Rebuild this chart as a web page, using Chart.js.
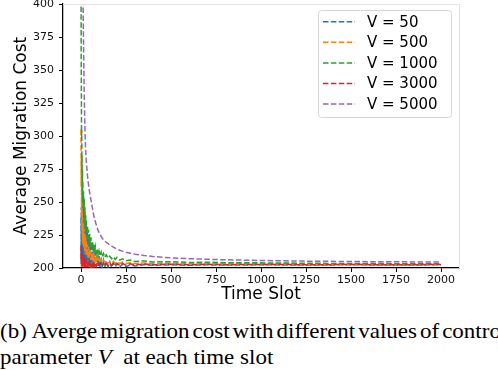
<!DOCTYPE html>
<html>
<head>
<meta charset="utf-8">
<script src="https://cdn.jsdelivr.net/npm/chart.js@4"></script>
<style>
  html, body { margin: 0; padding: 0; background: #fff; }
  body { width: 498px; height: 370px; overflow: hidden; position: relative; }
  #wrap { position: absolute; left: 0; top: 0; width: 498px; height: 305px; }
  #captionBox { position: absolute; left: 0; top: 318px; width: 498px; height: 52px; overflow: hidden; }
  #caption {
    font-family: "Liberation Serif", "Times New Roman", serif;
    font-size: 21px; line-height: 26px; color: #000;
    white-space: nowrap;
    transform: scaleX(1.095); transform-origin: 0 0;
  }
  #caption .first { word-spacing: -2.5px; }
</style>
</head>
<body>
<div id="wrap"><canvas id="costChart"></canvas></div>
<div id="captionBox"><div id="caption"><span class="first">(b)&nbsp; Averge migration cost with different values of control</span><br>parameter&nbsp;<i>V</i>&nbsp; at each time slot</div></div>

<script>
// ── data ───────────────────────────────────────────────────────────────────
const slots = [0, 1, 2, 3, 4, 5, 6, 7, 8, 9, 10, 12, 14, 16, 18, 20, 22, 24, 26, 28, 30,
    33, 36, 39, 42, 45, 48, 52, 56, 60, 64, 68, 72, 76, 80, 85, 90, 95, 100,
    106, 112, 118, 125, 132, 140, 150, 160, 170, 180, 190, 200, 215, 230, 250, 275, 300,
    350, 400, 500, 600, 700, 800, 1000, 1250, 1500, 1750, 2000];

const costV50 = [238, 205, 246, 212, 250, 208, 244, 206, 252, 210, 248, 207, 253, 211, 245, 205, 240, 208, 236, 204, 232,
    206, 228, 203, 225, 205, 222, 202, 219, 204, 216, 201, 214, 203, 212, 201, 210, 202, 209,
    200.5, 208, 201, 206, 200.5, 205, 201, 204.5, 200.5, 204, 201, 203.5, 200.5, 203, 201, 202.5, 201.5,
    202.5, 202, 202.4, 202.1, 202.4, 202.2, 202.4, 202.3, 202.4, 202.3, 202.4];

const costV500 = [305, 262, 284, 240, 262, 228, 250, 222, 242, 219, 238, 217, 234, 215, 230, 213, 226, 212, 224, 210, 221,
    209, 218, 208, 216, 207, 214, 206, 213, 206, 211, 205, 210, 205, 209, 204.5, 208, 204.5, 207,
    204, 206.5, 204, 206, 204, 205.5, 203.5, 205, 203.5, 205, 203.5, 204.5, 203.5, 204.5, 203.5, 204, 203.5,
    203.8, 203.4, 203.6, 203.3, 203.5, 203.2, 203.3, 203.1, 203, 202.9, 202.9];

const costV1000 = [470, 360, 338, 300, 305, 272, 285, 258, 274, 250, 266, 245, 258, 238, 252, 233, 246, 229, 240, 226, 236,
    223, 232, 220, 229, 218, 226, 216, 223, 214, 220, 213, 218, 212, 216, 211, 214, 210, 213,
    209, 212, 208.5, 211, 208, 210, 207.5, 209, 207, 208.5, 206.5, 208, 206, 207, 205.5, 206, 205,
    205.3, 204.6, 204.8, 204.2, 204.4, 204, 203.9, 203.6, 203.4, 203.3, 203.2];

const costV3000 = [217, 203, 214, 201, 212, 203, 211, 201, 210, 202, 209, 201, 208, 202, 208, 200.5, 207, 201, 206, 200.5, 206,
    201, 205, 200.5, 205, 201, 204.5, 200.5, 204.5, 201, 204, 201, 204, 201.5, 204, 201.5, 203.5, 201.5, 203.5,
    201.5, 203.5, 202, 203.5, 202, 203.5, 202, 203.5, 202, 203.5, 202, 203.5, 202, 203.5, 202.2, 203.2, 202.3,
    203, 202.4, 202.9, 202.5, 202.8, 202.5, 202.7, 202.5, 202.6, 202.5, 202.6];

const costV5000 = [900, 800, 720, 660, 610, 570, 530, 500, 470, 445, 420, 395, 372, 350, 332, 318, 305, 296, 289, 284, 280,
    275, 270, 266, 263, 260, 257, 254, 251, 248, 245, 242, 239, 237, 235, 232.5, 230.5, 228.5, 227,
    225.5, 224, 222.5, 221.5, 220.5, 219.5, 218.5, 217.5, 216.5, 215.8, 215, 214.3, 213.5, 212.8, 212, 211.2, 210.5,
    209.5, 208.7, 207.7, 207.1, 206.6, 206.2, 205.7, 205.2, 204.9, 204.7, 204.5];

const seriesLabels = ['V = 50', 'V = 500', 'V = 1000', 'V = 3000', 'V = 5000'];
const seriesColors = ['#1f77b4', '#ff7f0e', '#2ca02c', '#d62728', '#9467bd'];
const xTicks = [0, 250, 500, 750, 1000, 1250, 1500, 1750, 2000];
const yTicks = [200, 225, 250, 275, 300, 325, 350, 375, 400];

const allSeries = [costV50, costV500, costV1000, costV3000, costV5000];

// ── plot frame + in-axes legend ───────────────────────────────────────────
const frameAndLegend = {
    id: 'frameAndLegend',
    afterDraw(chart) {
        const ctx = chart.ctx;
        const a = chart.chartArea;
        ctx.save();
        // light top / right spines
        ctx.strokeStyle = '#e4e4e4';
        ctx.lineWidth = 1;
        ctx.beginPath();
        ctx.moveTo(a.left, a.top + 0.5);
        ctx.lineTo(a.right + 0.5, a.top + 0.5);
        ctx.lineTo(a.right + 0.5, a.bottom);
        ctx.stroke();

        // legend box
        const x0 = a.right - 141, y0 = a.top + 6, w = 133, h = 107;
        ctx.fillStyle = 'rgba(255,255,255,0.85)';
        ctx.strokeStyle = '#d6d6d6';
        ctx.beginPath();
        ctx.roundRect(x0 + 0.5, y0 + 0.5, w, h, 3);
        ctx.fill();
        ctx.stroke();

        ctx.font = '15px "DejaVu Sans"';
        ctx.textBaseline = 'middle';
        ctx.textAlign = 'left';
        chart.data.datasets.forEach((ds, i) => {
            const y = y0 + 11.7 + i * 20.6;
            ctx.strokeStyle = ds.borderColor;
            ctx.lineWidth = 1.5;
            ctx.setLineDash([5.5, 2.4]);
            ctx.beginPath();
            ctx.moveTo(x0 + 5, y);
            ctx.lineTo(x0 + 37, y);
            ctx.stroke();
            ctx.setLineDash([]);
            ctx.fillStyle = '#000';
            ctx.fillText(ds.label, x0 + 49, y + 1);
        });
        ctx.restore();
    }
};

new Chart(document.getElementById('costChart'), {
    type: 'line',
    data: {
        datasets: allSeries.map((vals, i) => ({
            label: seriesLabels[i],
            data: slots.map((t, j) => ({ x: t, y: vals[j] })),
            borderColor: seriesColors[i],
            borderWidth: 1.5,
            borderDash: [5.5, 2.4],
            pointRadius: 0,
            tension: 0,
            fill: false,
            order: allSeries.length - i,   // later series on top, like matplotlib
        }))
    },
    options: {
        responsive: true,
        maintainAspectRatio: false,
        animation: false,
        layout: { padding: { left: 0, top: 4, right: 39, bottom: 0 } },
        plugins: {
            legend: { display: false },
            tooltip: { enabled: false }
        },
        scales: {
            x: {
                type: 'linear',
                min: -100,
                max: 2100,
                afterBuildTicks: (axis) => { axis.ticks = xTicks.map(v => ({ value: v })); },
                afterFit: (s) => { s.height = 37; s.paddingLeft = 0; s.paddingRight = 0; },
                grid: { drawOnChartArea: false, drawTicks: true, tickLength: 4, color: '#000', lineWidth: 1 },
                border: { color: '#000', width: 1.25 },
                ticks: {
                    autoSkip: false, maxRotation: 0, padding: 2,
                    callback: (v) => String(v),
                    color: '#111', font: { family: 'DejaVu Sans', size: 11 }
                },
                title: {
                    display: true, text: 'Time Slot', color: '#000',
                    font: { family: 'DejaVu Sans', size: 17 },
                    padding: { top: 0, bottom: 0 }
                }
            },
            y: {
                min: 200,
                max: 400,
                afterBuildTicks: (axis) => { axis.ticks = yTicks.map(v => ({ value: v })); },
                afterFit: (s) => { s.width = 63; s.paddingTop = 0; s.paddingBottom = 0; },
                grid: { drawOnChartArea: false, drawTicks: true, tickLength: 4, color: '#000', lineWidth: 1 },
                border: { color: '#000', width: 1.25 },
                ticks: {
                    padding: 5,
                    callback: (v) => String(v),
                    color: '#111', font: { family: 'DejaVu Sans', size: 11 }
                },
                title: {
                    display: true, text: 'Average Migration Cost', color: '#000',
                    font: { family: 'DejaVu Sans', size: 17 },
                    padding: { top: 11, bottom: 0 }
                }
            }
        }
    },
    plugins: [frameAndLegend]
});
</script>
</body>
</html>
